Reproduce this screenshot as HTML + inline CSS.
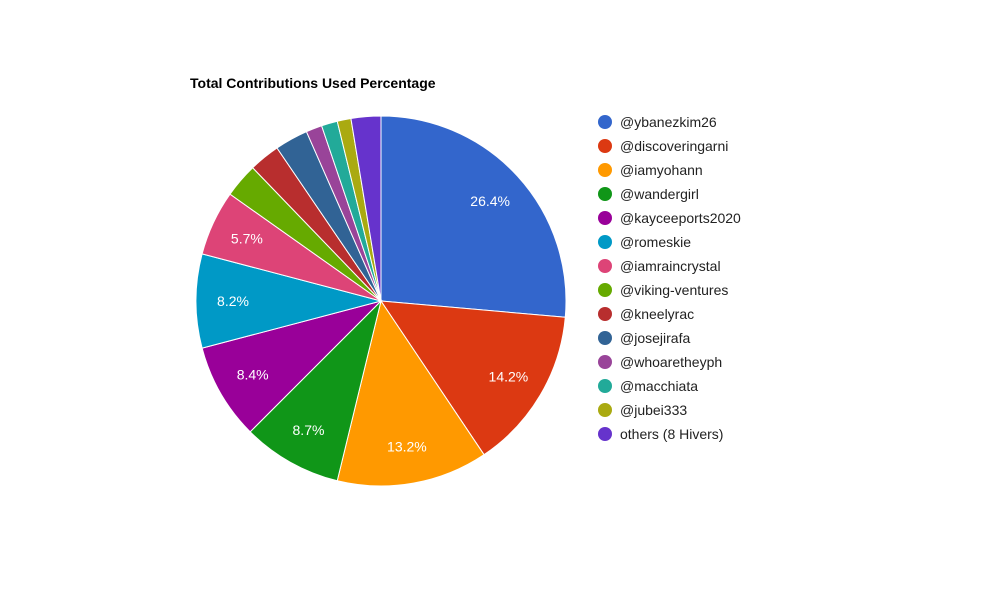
<!DOCTYPE html>
<html><head><meta charset="utf-8"><style>
body{margin:0;background:#fff;font-family:"Liberation Sans",Arial,sans-serif}
</style></head><body>
<svg id="chart" width="1000" height="600" xmlns="http://www.w3.org/2000/svg">
<rect width="1000" height="600" fill="#fff"/>
<text x="190" y="88" font-size="14" font-weight="bold" fill="#000">Total Contributions Used Percentage</text>
<g id="slices"></g>
<g id="labels"></g>
<g id="legend"></g>
</svg>
<script>
const categories=["@ybanezkim26","@discoveringarni","@iamyohann","@wandergirl","@kayceeports2020","@romeskie","@iamraincrystal","@viking-ventures","@kneelyrac","@josejirafa","@whoaretheyph","@macchiata","@jubei333","others (8 Hivers)"];
const values=[26.4,14.2,13.2,8.7,8.4,8.2,5.7,3.0,2.7,2.9,1.4,1.4,1.2,2.6];
const colors=["#3366cc","#dc3912","#ff9900","#109618","#990099","#0099c6","#dd4477","#66aa00","#b82e2e","#316395","#994499","#22aa99","#aaaa11","#6633cc"];
const NS="http://www.w3.org/2000/svg";
const cx=381,cy=301,r=185;
const total=values.reduce((a,b)=>a+b,0);
const sl=document.getElementById('slices'),lb=document.getElementById('labels'),lg=document.getElementById('legend');
function pt(a,rr){return [cx+rr*Math.sin(a),cy-rr*Math.cos(a)];}
let acc=0;
values.forEach((v,i)=>{
  const a0=acc/total*2*Math.PI;acc+=v;const a1=acc/total*2*Math.PI;
  const p0=pt(a0,r),p1=pt(a1,r);const large=(a1-a0)>Math.PI?1:0;
  const p=document.createElementNS(NS,'path');
  p.setAttribute('d',`M${cx},${cy}L${p0[0]},${p0[1]}A${r},${r} 0 ${large} 1 ${p1[0]},${p1[1]}Z`);
  p.setAttribute('fill',colors[i]);p.setAttribute('stroke','#fff');p.setAttribute('stroke-width','1');
  
  
  sl.appendChild(p);
  const pct=v/total*100;
  if(pct>=5){
    const m=pt((a0+a1)/2,r*0.8);
    const t=document.createElementNS(NS,'text');
    t.setAttribute('x',m[0]);t.setAttribute('y',m[1]+5);t.setAttribute('text-anchor','middle');
    t.setAttribute('font-size','14');t.setAttribute('fill','#fff');
    
    
    t.textContent=pct.toFixed(1)+'%';lb.appendChild(t);
  }
  const y=122+i*24;
  const g=document.createElementNS(NS,'g');
  
  
  const c=document.createElementNS(NS,'circle');
  c.setAttribute('cx',605);c.setAttribute('cy',y);c.setAttribute('r',7);c.setAttribute('fill',colors[i]);
  const t=document.createElementNS(NS,'text');
  t.setAttribute('x',620);t.setAttribute('y',y+5);t.setAttribute('font-size','14');t.setAttribute('fill','#222');
  t.textContent=categories[i];
  g.appendChild(c);g.appendChild(t);lg.appendChild(g);
});
</script>
</body></html>
